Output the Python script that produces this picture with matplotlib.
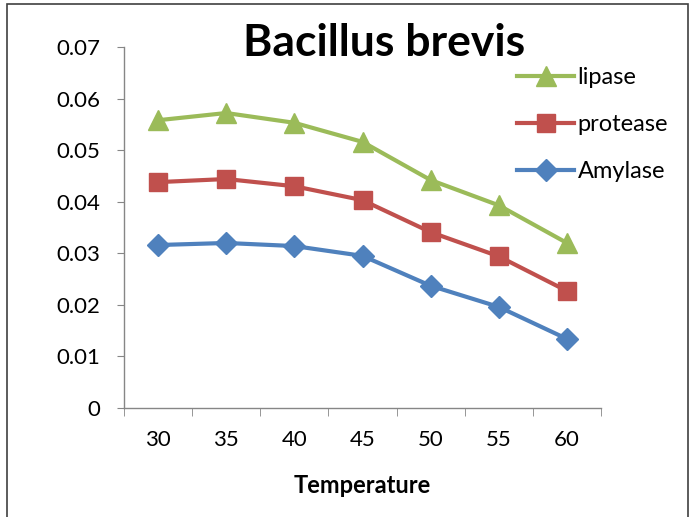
import matplotlib
matplotlib.use("Agg")
import matplotlib.pyplot as plt
from matplotlib.patches import Rectangle

temperatures = ["30", "35", "40", "45", "50", "55", "60"]
lipase = [0.0558, 0.0572, 0.0553, 0.0516, 0.0442, 0.0393, 0.0320]
protease = [0.0438, 0.0444, 0.0430, 0.0403, 0.0341, 0.0294, 0.0227]
amylase = [0.0316, 0.0320, 0.0314, 0.0295, 0.0237, 0.0196, 0.0134]
y_ticks = [0, 0.01, 0.02, 0.03, 0.04, 0.05, 0.06, 0.07]
y_labels = ["0", "0.01", "0.02", "0.03", "0.04", "0.05", "0.06", "0.07"]

plt.rcParams['font.family'] = ['Lato', 'DejaVu Sans']

fig = plt.figure(figsize=(6.89, 5.17), dpi=100)
ax = fig.add_axes([124/689, 1-408/517, (601-124)/689, (408-47)/517])

x = list(range(len(temperatures)))
gray = "#868686"
ax.plot(x, lipase, color="#9BBB59", lw=3, marker="^", ms=14, label="lipase")
ax.plot(x, protease, color="#C0504D", lw=3, marker="s", ms=13, label="protease")
ax.plot(x, amylase, color="#4F81BD", lw=3, marker="D", ms=11, label="Amylase")

ax.set_xlim(-0.5, len(temperatures)-0.5)
ax.set_ylim(0, 0.07)
ax.set_yticks(y_ticks)
ax.set_yticklabels(y_labels, fontsize=16)
ax.set_xticks(x)
ax.set_xticklabels(temperatures, fontsize=16)
ax.set_xticks([i - 0.5 for i in range(len(temperatures)+1)], minor=True)
ax.tick_params(axis='x', which='major', length=0, pad=16)
ax.tick_params(axis='x', which='minor', length=6, color=gray, direction='out')
ax.tick_params(axis='y', length=5, color=gray, direction='out', pad=12)
for s in ["top", "right"]:
    ax.spines[s].set_visible(False)
for s in ["left", "bottom"]:
    ax.spines[s].set_color(gray)
    ax.spines[s].set_linewidth(1)
ax.set_xlabel("Temperature", fontsize=17, fontweight="bold", labelpad=17)

fig.text(384/689, 1-43/517, "Bacillus brevis", fontsize=32, fontweight="bold",
         ha="center", va="center")

ax.legend(loc="upper left", bbox_to_anchor=(508/689, 1-58/517),
          bbox_transform=fig.transFigure, frameon=False, fontsize=17,
          handlelength=2.4, labelspacing=1.1, handletextpad=0.15, borderaxespad=0)

fig.patches.append(Rectangle((7/689, -0.01), (688-7)/689, 1-4/517+0.01,
                             transform=fig.transFigure, fill=False,
                             edgecolor="#404040", lw=1.2))

fig.savefig("out.png", dpi=100)
